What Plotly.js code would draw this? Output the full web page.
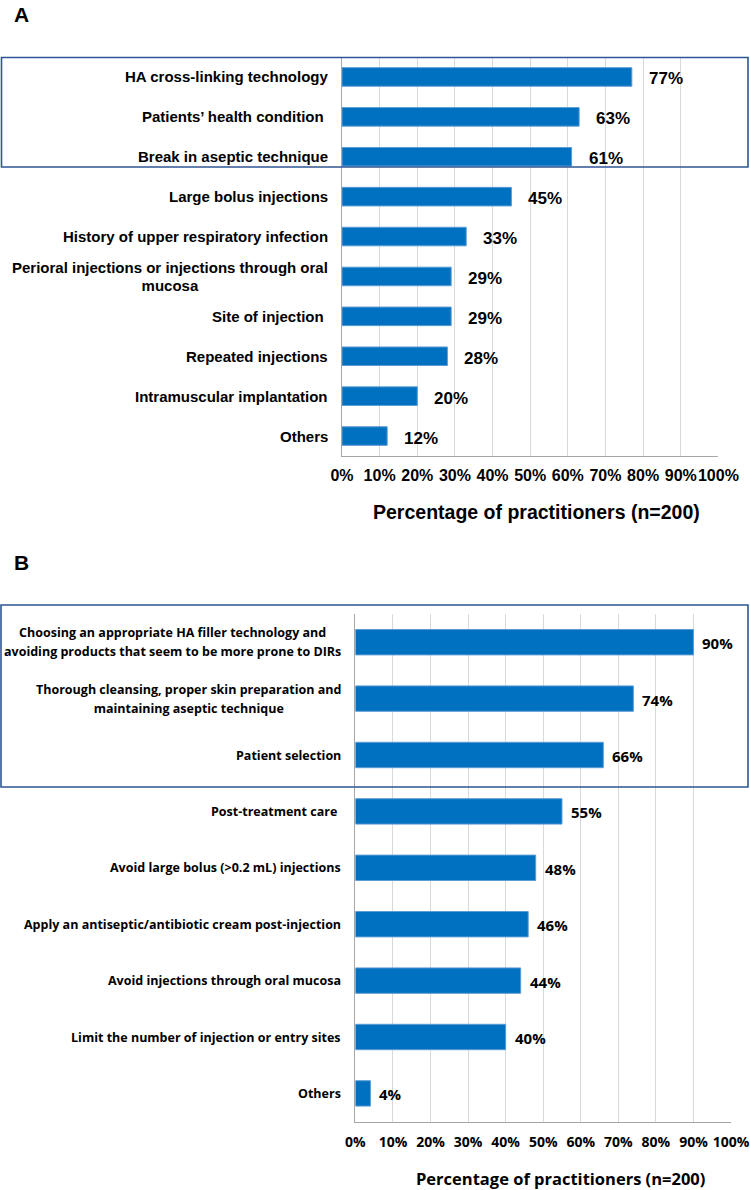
<!DOCTYPE html>
<html>
<head>
<meta charset="utf-8">
<script src="https://cdn.plot.ly/plotly-3.0.1.min.js"></script>
<style>
  html, body { margin: 0; padding: 0; background: #ffffff; }
  #chart { width: 750px; height: 1190px; }
</style>
</head>
<body>
<div id="chart"></div>
<script>
// ---- Data ----
const categoriesA = [
  "HA cross-linking technology",
  "Patients\u2019 health condition\u00a0",
  "Break in aseptic technique",
  "Large bolus injections",
  "History of upper respiratory infection",
  "Perioral injections or injections through oral<br>mucosa",
  "Site of injection\u00a0",
  "Repeated injections",
  "Intramuscular implantation",
  "Others"
];
const valuesA = [77, 63, 61, 45, 33, 29, 29, 28, 20, 12];

const categoriesB = [
  "Choosing an appropriate HA filler technology and<br>avoiding products that seem to be more prone to DIRs",
  "Thorough cleansing, proper skin preparation and<br>maintaining aseptic technique",
  "Patient selection",
  "Post-treatment care\u00a0",
  "Avoid large bolus (>0.2 mL) injections",
  "Apply an antiseptic/antibiotic cream post-injection",
  "Avoid injections through oral mucosa",
  "Limit the number of injection or entry sites",
  "Others"
];
const valuesB = [90, 74, 66, 55, 48, 46, 44, 40, 4];

const tickVals = [0, 10, 20, 30, 40, 50, 60, 70, 80, 90, 100];
const tickText = ["0%", "10%", "20%", "30%", "40%", "50%", "60%", "70%", "80%", "90%", "100%"];

const axisTitleA = "Percentage of practitioners (n=200)";
const axisTitleB = "Percentage of practitioners (n=200)";

// ---- Styling ----
const W = 750, H = 1190;
const px = v => v / W;
const py = v => 1 - v / H;
const BAR = '#0070C0';
const FONT_A = 'Liberation Sans, Arial, sans-serif';
const FONT_B = 'Open Sans, Noto Sans, sans-serif';

const traceA = {
  type: 'bar', orientation: 'h',
  x: valuesA, y: categoriesA,
  xaxis: 'x', yaxis: 'y',
  width: 0.465,
  marker: { color: BAR, line: { color: '#5B9BD5', width: 1 } },
  hoverinfo: 'x+y'
};
const traceB = {
  type: 'bar', orientation: 'h',
  x: valuesB, y: categoriesB,
  xaxis: 'x2', yaxis: 'y2',
  width: 0.45,
  marker: { color: BAR, line: { color: '#5B9BD5', width: 1 } },
  hoverinfo: 'x+y'
};

function xAxis(domain, anchor, font, size, standoff) {
  return {
    domain: domain, anchor: anchor, range: [0, 100], fixedrange: true,
    tickmode: 'array', tickvals: tickVals, ticktext: tickText,
    tickangle: 0,
    tickfont: { family: font, size: size, color: '#000000', weight: 'bold' },
    ticks: '', ticklabelstandoff: standoff,
    showgrid: true, gridcolor: '#D9D9D9', gridwidth: 1,
    zeroline: false,
    showline: true, linecolor: '#A6A6A6', linewidth: 1,
    automargin: false
  };
}
function yAxis(domain, cats, anchor) {
  return {
    domain: domain, anchor: anchor, type: 'category',
    categoryorder: 'array', categoryarray: cats,
    autorange: 'reversed', fixedrange: true,
    showticklabels: false, ticks: '',
    showgrid: false, zeroline: false,
    showline: true, linecolor: '#A6A6A6', linewidth: 1,
    automargin: false
  };
}

// label text: multi-line labels get a wider line gap (outer size sets line spacing)
function labelAnn(c, yref, xPix, fontFamily, size, gap) {
  const multi = c.indexOf('<br>') >= 0;
  const outer = multi ? gap / 1.3 : size;
  const txt = multi
    ? c.split('<br>').map(s => '<span style="font-size:' + size + 'px">' + s + '</span>').join('<br>')
    : c;
  return {
    xref: 'paper', yref: yref, x: px(xPix), y: c,
    text: txt, showarrow: false, xanchor: 'right', yanchor: 'middle', align: 'center',
    font: { family: fontFamily, size: outer, color: '#000000', weight: 'bold' }
  };
}

const annotations = [];

categoriesA.forEach(c => annotations.push(labelAnn(c, 'y', 330, FONT_A, 15, 18)));
categoriesB.forEach(c => annotations.push(labelAnn(c, 'y2', 343, FONT_B, 12.5, 18.5)));

// value labels
valuesA.forEach((v, i) => annotations.push({
  xref: 'x', yref: 'y', x: v, y: categoriesA[i],
  text: v + '%', showarrow: false, xanchor: 'left', yanchor: 'middle',
  xshift: 15, yshift: -2,
  font: { family: FONT_A, size: 17, color: '#000000', weight: 'bold' }
}));
valuesB.forEach((v, i) => annotations.push({
  xref: 'x2', yref: 'y2', x: v, y: categoriesB[i],
  text: v + '%', showarrow: false, xanchor: 'left', yanchor: 'middle',
  xshift: 7, yshift: -1,
  font: { family: FONT_B, size: 15, color: '#000000', weight: 'bold' }
}));

// axis titles
annotations.push({
  xref: 'paper', yref: 'paper', x: px(536), y: py(512),
  text: axisTitleA, showarrow: false, xanchor: 'center', yanchor: 'middle',
  font: { family: FONT_A, size: 19.5, color: '#000000', weight: 'bold' }
});
annotations.push({
  xref: 'paper', yref: 'paper', x: px(560), y: py(1178),
  text: axisTitleB, showarrow: false, xanchor: 'center', yanchor: 'middle',
  font: { family: FONT_B, size: 16.5, color: '#000000', weight: 'bold' }
});

// panel letters
annotations.push({
  xref: 'paper', yref: 'paper', x: px(12), y: py(15),
  text: 'A', showarrow: false, xanchor: 'left', yanchor: 'middle',
  font: { family: FONT_A, size: 21, color: '#000000', weight: 'bold' }
});
annotations.push({
  xref: 'paper', yref: 'paper', x: px(12), y: py(562),
  text: 'B', showarrow: false, xanchor: 'left', yanchor: 'middle',
  font: { family: FONT_A, size: 21, color: '#000000', weight: 'bold' }
});

const boxLine = { color: '#2F5597', width: 1.6 };
const shapes = [
  { type: 'rect', xref: 'paper', yref: 'paper', x0: px(1.5), x1: px(748), y0: py(167), y1: py(57.5), line: boxLine, layer: 'above' },
  { type: 'rect', xref: 'paper', yref: 'paper', x0: px(1), x1: px(748), y0: py(787), y1: py(605), line: boxLine, layer: 'above' }
];

const layout = {
  width: W, height: H,
  margin: { l: 0, r: 0, t: 0, b: 0, pad: 0, autoexpand: false },
  paper_bgcolor: '#ffffff', plot_bgcolor: '#ffffff',
  showlegend: false,
  xaxis: xAxis([px(342), px(718.4)], 'y', FONT_A, 16, 5),
  yaxis: yAxis([py(456), py(57)], categoriesA, 'x'),
  xaxis2: xAxis([px(355.4), px(731)], 'y2', FONT_B, 14, 8),
  yaxis2: yAxis([py(1121.6), py(614)], categoriesB, 'x2'),
  annotations: annotations,
  shapes: shapes
};

Plotly.newPlot('chart', [traceA, traceB], layout, { displayModeBar: false, staticPlot: true });
</script>
</body>
</html>
